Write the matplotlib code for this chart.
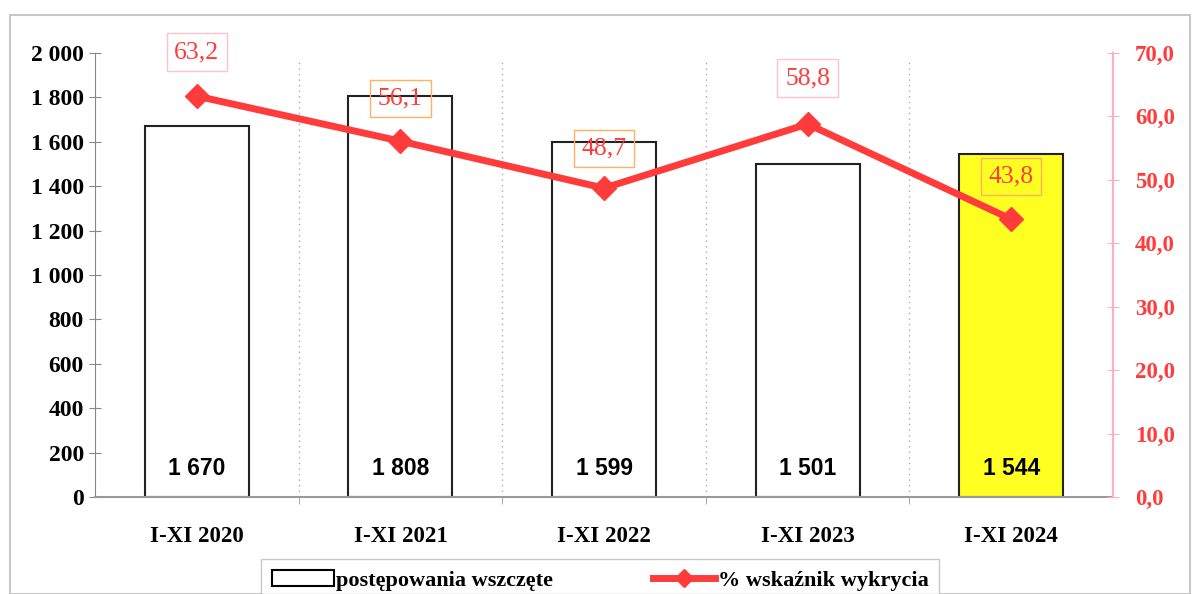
import numpy as np
import matplotlib.pyplot as plt
from matplotlib.font_manager import FontProperties
from matplotlib.lines import Line2D
from matplotlib.patches import Patch, Rectangle

plt.switch_backend('agg')

categories = ['I-XI 2020', 'I-XI 2021', 'I-XI 2022', 'I-XI 2023', 'I-XI 2024']
cases = [1670, 1808, 1599, 1501, 1544]
detection = [63.2, 56.1, 48.7, 58.8, 43.8]
case_labels = ['1 670', '1 808', '1 599', '1 501', '1 544']
pct_labels = ['63,2', '56,1', '48,7', '58,8', '43,8']
bar_colors = ['white', 'white', 'white', 'white', '#ffff22']
left_ticks = [0, 200, 400, 600, 800, 1000, 1200, 1400, 1600, 1800, 2000]
right_ticks = [0, 10, 20, 30, 40, 50, 60, 70]

RED = '#ff3b3b'
SERIF = 'Liberation Serif'

fig = plt.figure(figsize=(11.93, 5.94), dpi=100)
fig.patches.append(Rectangle((10 / 1193, 0), 1180 / 1193, 1 - 15 / 594,
                             transform=fig.transFigure, fill=False,
                             edgecolor='#c8c8c8', lw=1.5))
ax = fig.add_axes([95 / 1193, 1 - 497 / 594, (1113 - 95) / 1193, (497 - 53) / 594])
ax2 = ax.twinx()

x = np.arange(len(categories))
ax.bar(x, cases, width=0.51, color=bar_colors, edgecolor='#222222', lw=1.5, zorder=2)
for xi, lab in zip(x, case_labels):
    ax.text(xi, 130, lab, ha='center', va='center', fontsize=16.5,
            fontweight='bold', family='Liberation Sans', color='black', zorder=3)

ax.set_xlim(-0.5, 4.5)
ax.set_ylim(0, 2000)
ax.set_yticks(left_ticks)
ax.set_yticklabels([f'{v:,}'.replace(',', ' ') for v in left_ticks],
                   family=SERIF, fontweight='bold', fontsize=17)
ax.set_xticks(x)
ax.set_xticklabels(categories, family=SERIF, fontweight='bold', fontsize=16.5)
ax.tick_params(axis='x', length=0, pad=21)
ax.set_xticks(np.arange(0.5, 4.5, 1), minor=True)
ax.tick_params(axis='x', which='minor', length=5, color='#999999')
ax.tick_params(axis='y', direction='inout', length=8, color='#888888', pad=4)
for b in np.arange(0.5, 4.5, 1):
    ax.axvline(b, color='#aaaaaa', ls=(0, (1, 3)), lw=1, ymax=0.98, zorder=1)
for s in ['top', 'right']:
    ax.spines[s].set_visible(False)
ax.spines['left'].set_color('#888888')
ax.spines['bottom'].set_color('#999999')
ax.spines['bottom'].set_linewidth(1.5)

ax2.plot(x, detection, color=RED, lw=5, marker='D', markersize=12, zorder=4)
ax2.set_ylim(0, 70)
ax2.set_yticks(right_ticks)
ax2.set_yticklabels([f'{v:.1f}'.replace('.', ',') for v in right_ticks],
                    family=SERIF, fontweight='bold', fontsize=16.5, color=RED)
ax2.tick_params(axis='y', direction='inout', length=8, color='#ffb0c0', pad=12)
for s in ['top', 'left', 'bottom']:
    ax2.spines[s].set_visible(False)
ax2.spines['right'].set_color('#ffb0c0')
ax2.spines['right'].set_linewidth(1.5)

offsets = [5.2, 5.0, 4.5, 5.5, 5.0]
edges = ['#ffc0d0', '#ffb060', '#ffb060', '#ffc0d0', '#ffb060']
for xi, v, lab, off, ec in zip(x, detection, pct_labels, offsets, edges):
    ax2.text(xi, v + off, lab, ha='center', va='bottom', fontsize=18.5,
             family=SERIF, color=RED, clip_on=False, zorder=5,
             bbox=dict(boxstyle='square,pad=0.3', fc='none', ec=ec, lw=1))

handles = [Patch(facecolor='white', edgecolor='black', lw=1.5),
           Line2D([0], [0], color=RED, lw=5, marker='D', markersize=9)]
leg_font = FontProperties(family=SERIF, weight='bold', size=16)
fig.legend(handles, ['postępowania wszczęte', '% wskaźnik wykrycia'],
           loc='upper center', bbox_to_anchor=(600 / 1193, 1 - 559 / 594),
           ncol=2, frameon=True, fancybox=False, edgecolor='#bbbbbb',
           prop=leg_font, columnspacing=4.5, handlelength=2.8,
           handletextpad=0.1, borderaxespad=0, borderpad=0.5)

fig.savefig('out.png', dpi=100)
